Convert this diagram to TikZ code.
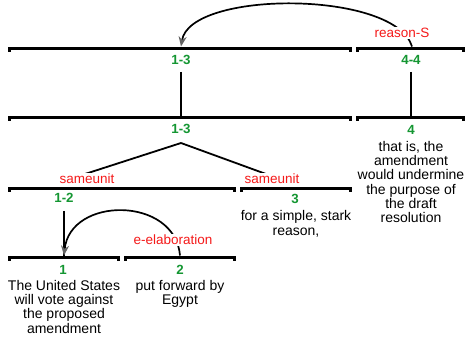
\documentclass[tikz,border=0pt]{standalone}
\usepackage{fontspec}
\setmainfont{Liberation Sans}
\usetikzlibrary{arrows.meta}
\definecolor{spangreen}{RGB}{20,150,50}
\definecolor{relred}{RGB}{245,25,25}
\definecolor{tipgray}{RGB}{100,100,100}
\tikzset{
	spanbar/.style={line width=3pt},
	spanlbl/.style={font=\bfseries\fontsize{13.3}{14.3}\selectfont, text=spangreen, inner sep=1pt},
	edutext/.style={align=center, anchor=north, font=\fontsize{14}{14.3}\selectfont, inner sep=0pt},
	rellbl/.style={font=\fontsize{13.5}{14.3}\selectfont, text=relred, fill=white, inner sep=1pt},
	link/.style={line width=1.8pt},
	relarc/.style={line width=1.7pt, -{Stealth[length=10pt,width=8pt,color=tipgray]}}
}
% span bar: x1, x2, y
\newcommand{\spanline}[3]{\draw[spanbar] (#1,#3+3.5) -- (#1,#3) -- (#2,#3) -- (#2,#3+3.5);}
\begin{document}
\begin{tikzpicture}[x=1pt,y=-1pt]
	\useasboundingbox (0,0) rectangle (465,340);
	% Thanh span
	\spanline{9}{350}{48}
	\spanline{357}{463}{48}
	\spanline{9}{350}{117}
	\spanline{357}{463}{117}
	\spanline{9}{234}{188}
	\spanline{241}{350}{188}
	\spanline{9}{118}{257}
	\spanline{125}{234}{257}
	
	% Diem tren thanh
	\coordinate (r1) at (181,46.5);
	\coordinate (r2) at (412,46.5);
	\coordinate (m1) at (181,116);
	\coordinate (m2) at (411,116);
	\coordinate (apex) at (181,143);
	\coordinate (e1) at (64,255.5);
	\coordinate (e2) at (180,255.5);
	
	% Nhan span
	\node[spanlbl] (t13) at (181,60) {1-3};
	\node[spanlbl] (t44) at (411,60) {4-4};
	\node[spanlbl] (m13) at (181,129) {1-3};
	\node[spanlbl] (m4) at (411,130) {4};
	\node[spanlbl] (s12) at (64,198) {1-2};
	\node[spanlbl] (s3) at (295,199) {3};
	\node[spanlbl] (b1) at (63,270) {1};
	\node[spanlbl] (b2) at (180,270) {2};
	
	% Van ban
	\node[edutext] (x4) at (411,141) {that is, the\\amendment\\would undermine\\the purpose of\\the draft\\resolution};
	\node[edutext] (x3) at (296,210.5) {for a simple, stark\\reason,};
	\node[edutext] (x1) at (64,280) {The United States\\will vote against\\the proposed\\amendment};
	\node[edutext] (x2) at (180,280) {put forward by\\Egypt};
	
	% Duong noi
	\draw[link] (t13.south) ++(0,6) -- (m1);
	\draw[link] (t44.south) ++(0,6) -- (m2);
	\draw[link] (s12.south) ++(0,7) -- (e1);
	\draw[link] (apex) -- (85,174) coordinate (su1);
	\draw[link] (apex) -- (266,174) coordinate (su2);
	
	% Cung quan he
	\draw[relarc] (r2) .. controls (395,-10) and (190,-10) .. (r1);
	\draw[relarc] (e2) .. controls (175,196) and (70,196) .. (e1);
	
	% Nhan quan he
	\node[rellbl] (rs) at (402,33) {reason-S};
	\node[rellbl] (su1l) at (87,179) {sameunit};
	\node[rellbl] (su2l) at (272,179) {sameunit};
	\node[rellbl] (ee) at (173,240) {e-elaboration};
\end{tikzpicture}
\end{document}
